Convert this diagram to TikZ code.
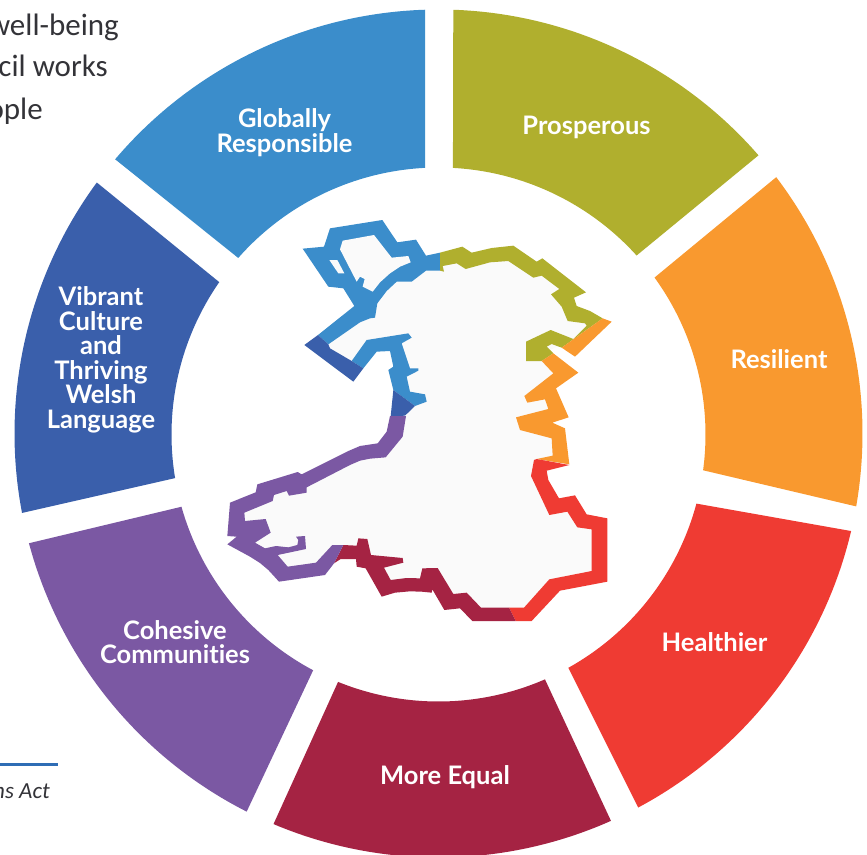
\documentclass[tikz,border=0pt]{standalone}
\usepackage{fontspec}
\setmainfont{Carlito}
\newfontfamily\labelfont[Ligatures=NoCommon]{Lato}
\usetikzlibrary{calc}
\definecolor{cblue}{HTML}{3B8DCB}
\definecolor{colive}{HTML}{B0AF2E}
\definecolor{corange}{HTML}{F9992F}
\definecolor{cred}{HTML}{EF3B33}
\definecolor{cmaroon}{HTML}{A52343}
\definecolor{cpurple}{HTML}{7B58A3}
\definecolor{cdark}{HTML}{3A5FAB}
\definecolor{cland}{HTML}{FAFAFA}
\definecolor{ctext}{HTML}{333338}
\definecolor{crule}{HTML}{2F6DB5}
\newcommand\ringseg[5]{\fill[#1] ($(c)+(#2:424pt)$) arc[start angle=#2,end angle=#3,radius=424pt] -- ($(ci)+(#4:267pt)$) arc[start angle=#4,end angle=#5,radius=267pt] -- cycle;}
\tikzset{
  seglabel/.style={text=white,font=\labelfont\bfseries\fontsize{25.5}{24.5}\selectfont,align=center,inner sep=0pt},
  bodytext/.style={text=ctext,font=\fontsize{31}{31}\selectfont,anchor=base east,inner sep=0pt},
  zoomA/.style={shift={(290pt,-205pt)},x=0.33333pt,y=-0.33333pt},
  zoomB/.style={shift={(210pt,-400pt)},x=0.33333pt,y=-0.33333pt},
}
\begin{document}
\begin{tikzpicture}[x=1pt,y=1pt]
\useasboundingbox (0,0) rectangle (867,-854);
\clip (0,0) rectangle (867,-854);
\coordinate (c) at (438.5,-433.5);
\coordinate (ci) at (438.5,-434.5);
\ringseg{cblue}{139.7}{91.8}{92.9}{138.6}
\ringseg{colive}{88.0}{41.0}{42.1}{86.9}
\ringseg{corange}{37.2}{-9.9}{-7.7}{36.0}
\ringseg{cred}{-13.3}{-61.9}{-60.9}{-15.0}
\ringseg{cmaroon}{-66.0}{-112.9}{-112.1}{-66.5}
\ringseg{cpurple}{-116.9}{-165.0}{-164.3}{-118.0}
\ringseg{cdark}{-169.2}{-216.3}{-214.8}{-170.6}
% land
\begin{scope}[zoomA]
\fill[cland] (450,170)--(520,150)--(670,145)--(750,190)--(850,262)--(820,275)--(840,320)--(920,340)--(830,415)--(790,430)--(770,440)--(790,480)--(830,500)--(760,530)--(790,620)--(720,640)--(800,700)--(810,770)
 --(790,785)--(760,815)--(800,905)--(850,905)--(880,950)--(930,955)--(930,1115)--(790,1140)--(710,1228)
 --(560,1228)--(520,1190)--(470,1195)--(430,1125)--(360,1140)--(290,1145)--(240,1075)--(210,1065)--(180,1040)--(150,1035)
 --(120,1045)--(80,1090)--(-20,1107)--(-90,1055)--(-160,1015)--(-160,915)--(-80,855)--(20,825)--(60,835)--(190,755)--(270,735)--(315,685)--(325,633)
 --(330,560)--(320,490)--(320,430)--(245,420)--(205,478)--(150,475)--(80,410)--(100,400)--(200,320)--(250,310)--(310,215)--(400,170)--cycle;
\fill[cblue] (450,143)--(408,152)--(378,104)--(322,112)--(277,45)--(120,70)--(102,125)--(38,131)--(115,245)--(160,250)--(193,303)--(84,390)--(115,418)--(210,352)--(240,340)--(255,338)--(262,295)--(290,258)--(320,230)--(365,230)--(408,197)--(450,197)--cycle;
\fill[cland] (158,107)--(252,90)--(305,158)--(355,153)--(362,172)--(330,185)--(300,205)--(270,232)--(248,260)--(218,245)--(224,222)--(210,215)--(200,230)--(150,133)--cycle;
\fill[cland] (118,165)--(142,165)--(163,205)--(145,205)--cycle;
\fill[cblue] (310,555)--(375,603)--(410,590)--(405,568)--(360,560)--(350,515)--(385,497)--(385,490)--(360,490)--(335,415)--(365,398)--(355,385)--(230,405)--(185,468)--(220,490)--(260,440)--(300,438)--(310,485)--(295,495)--cycle;
\fill[cdark] (84,390)--(43,420)--(190,530)--(220,490)--(185,468)--(120,430)--(115,418)--cycle;
\fill[cdark] (310,555)--(375,603)--(345,632)--(302,634)--cycle;
\fill[colive] (450,143)--(517,125)--(545,143)--(605,129)--(670,122)--(740,170)--(757,160)--(888,262)--(852,278)--(860,303)--(900,318)--(938,340)--(815,428)--(785,417)--(770,425)--(790,445)--(755,468)--(708,468)--(708,410)--(782,375)--(850,402)--(890,362)--(885,355)--(833,348)--(815,305)--(783,268)--(808,252)--(755,212)--(730,218)--(655,168)--(600,172)--(527,192)--(500,175)--(458,183)--(462,200)--(450,197)--cycle;
\fill[corange] (938,340)--(965,350)--(855,455)--(815,428)--cycle;
\fill[corange] (790,445)--(865,503)--(798,550)--(836,637)--(787,653)--(825,670)--(838,778)--(740,762)--(788,752)--(785,700)--(690,675)--(678,637)--(775,612)--(765,583)--(712,593)--(703,573)--(790,505)--(755,468)--cycle;
\end{scope}
\begin{scope}[zoomB]
\fill[cred] (980,177)--(1078,195)--(1010,212)--(1015,240)--(1047,295)--(1095,286)--(1130,343)--(1192,355)--(1192,545)--(1050,572)--(965,663)--(917,663)--(897,623)--(942,623)--(1018,538)--(1145,513)--(1145,388)--(1102,382)--(1072,335)--(1018,345)--(963,228)--(972,180)--cycle;
\fill[cmaroon] (917,663)--(787,663)--(750,625)--(703,630)--(667,568)--(665,578)--(635,575)--(600,574)--(555,578)--(515,590)--(467,505)--(440,500)--(438,477)--(392,477)--(372,490)--(400,435)--(440,437)--(445,415)--(472,417)--(483,465)--(578,474)--(580,488)--(522,503)--(542,540)--(590,534)--(630,535)--(637,505)--(683,504)--(730,582)--(770,578)--(813,623)--(897,623)--cycle;
\fill[cpurple] (540,48)--(588,48)--(578,110)--(527,172)--(480,176)--(450,182)--(420,195)--(290,262)--(290,278)--(237,287)--(230,273)--(192,285)--(188,303)--(103,338)--(105,363)--(167,357)--(182,398)--(135,428)--(165,445)--(198,438)--(235,442)--(262,435)--(265,420)--(258,410)--(285,408)--(288,447)--(203,465)--(233,500)--(318,488)--(367,435)--(400,435)--(372,490)--(345,525)--(207,545)--(175,510)--(150,489)--(120,470)--(52,433)--(80,410)--(52,408)--(60,308)--(137,277)--(142,253)--(263,216)--(275,223)--(415,153)--(450,138)--(503,130)--(530,95)--cycle;
\end{scope}
% labels
\node[seglabel] (globally) at (284.5,-132.5) {Globally\\Responsible};
\node[seglabel] (prosperous) at (586.5,-127) {Prosperous};
\node[seglabel] (resilient) at (779,-359.5) {Resilient};
\node[seglabel] (healthier) at (714.5,-642) {Healthier};
\node[seglabel] (equal) at (445,-777) {More Equal};
\node[seglabel] (cohesive) at (175,-642) {Cohesive\\Communities};
\node[seglabel] (vibrant) at (101,-360) {Vibrant\\Culture\\and\\Thriving\\Welsh\\Language};
% clipped body text
\node[bodytext] (bodyA) at (119,-35) {well-being};
\node[bodytext] (bodyB) at (108,-76) {ncil works};
\node[bodytext] (bodyC) at (43,-119) {ople};
\coordinate (ruleA) at (0,-764.5);
\coordinate (ruleB) at (58,-764.5);
\draw[crule,line width=2.2pt] (ruleA) -- (ruleB);
\node[text=ctext,font=\itshape\fontsize{23}{23}\selectfont,anchor=base east,inner sep=0pt] (act) at (50,-798) {ns Act};
\end{tikzpicture}
\end{document}
